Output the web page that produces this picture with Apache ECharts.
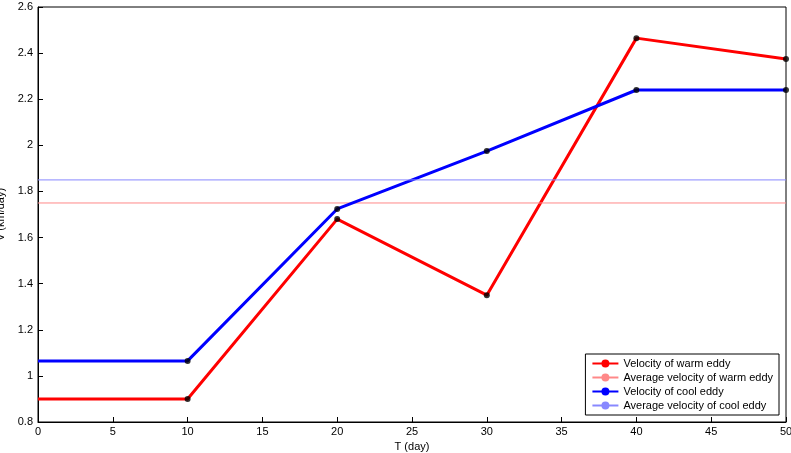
<!DOCTYPE html>
<html><head><meta charset="utf-8">
<script src="https://cdn.jsdelivr.net/npm/echarts@6/dist/echarts.min.js"></script>
<style>html,body{margin:0;padding:0;background:#fff}#c{width:791px;height:453px}</style>
</head><body><div id="c"></div>
<script>
var T = [0, 10, 20, 30, 40, 50];
var warm = [0.9, 0.9, 1.68, 1.35, 2.465, 2.374];
var cool = [1.065, 1.065, 1.724, 1.975, 2.24, 2.24];
var warmAvg = 1.75;
var coolAvg = 1.85;
function pts(v){return T.map(function(t,i){return [t,v[i]];});}
function dots(v){return T.slice(1).map(function(t,i){return [t,v[i+1]];});}
var chart = echarts.init(document.getElementById('c'));
var ax = {color:'#000',fontSize:11,fontFamily:'Arial'};
chart.setOption({
  animation:false,
  grid:{left:38,right:5,top:7,bottom:31,containLabel:false,outerBoundsMode:'none'},
  xAxis:{type:'value',min:0,max:50,interval:5,name:'T (day)',nameLocation:'middle',nameGap:16,
    nameTextStyle:ax,axisLabel:Object.assign({margin:4},ax),
    axisLine:{lineStyle:{color:'#000'}},axisTick:{inside:true,length:5,lineStyle:{color:'#000'}},splitLine:{show:false}},
  yAxis:{type:'value',min:0.8,max:2.6,interval:0.2,name:'V (km/day)',nameLocation:'middle',nameGap:26,
    nameTextStyle:ax,axisLabel:Object.assign({margin:5,formatter:function(v){return +v.toFixed(1)+'';}},ax),
    axisLine:{lineStyle:{color:'#000'}},axisTick:{inside:true,length:5,lineStyle:{color:'#000'}},splitLine:{show:false}},
  legend:{right:12,bottom:38,orient:'vertical',backgroundColor:'#fff',borderColor:'#000',borderWidth:1,borderRadius:0,
    padding:[4,6],itemGap:3,itemWidth:26,itemHeight:10,textStyle:{fontSize:11,fontFamily:'Arial',color:'#000'},
    data:['Velocity of warm eddy','Average velocity of warm eddy','Velocity of cool eddy','Average velocity of cool eddy']},
  series:[
    {name:'Velocity of warm eddy',type:'line',data:pts(warm),symbol:'none',lineStyle:{color:'#f00',width:3},itemStyle:{color:'#f00'},z:3},
    {name:'Average velocity of warm eddy',type:'line',data:[[0,warmAvg],[50,warmAvg]],symbol:'none',lineStyle:{color:'#f88',width:1},itemStyle:{color:'#f88'}},
    {name:'Velocity of cool eddy',type:'line',data:pts(cool),symbol:'none',lineStyle:{color:'#00f',width:3},itemStyle:{color:'#00f'},z:3},
    {name:'Average velocity of cool eddy',type:'line',data:[[0,coolAvg],[50,coolAvg]],symbol:'none',lineStyle:{color:'#88f',width:1},itemStyle:{color:'#88f'}},
    {type:'scatter',data:dots(warm).concat(dots(cool)),symbolSize:6,itemStyle:{color:'#000'},z:5,silent:true}
  ],
  graphic:[{type:'rect',shape:{x:38,y:7,width:748,height:415},style:{fill:'none',stroke:'#000',lineWidth:1},silent:true}]
});
</script></body></html>
